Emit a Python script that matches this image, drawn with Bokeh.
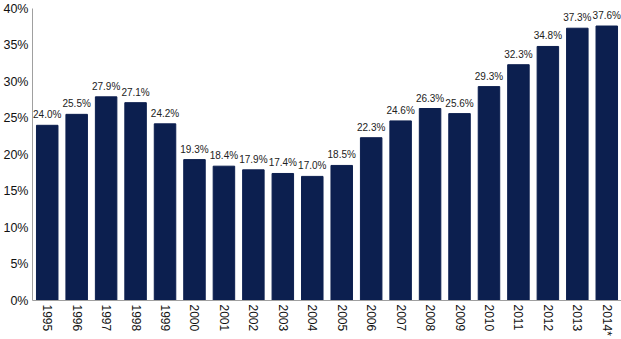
from bokeh.plotting import figure
from bokeh.models import ColumnDataSource, FactorRange, Range1d, FixedTicker, CustomJSTickFormatter
from bokeh.core.properties import value
from bokeh.embed import file_html
from bokeh.resources import INLINE

years = ["1995", "1996", "1997", "1998", "1999", "2000", "2001", "2002", "2003", "2004",
         "2005", "2006", "2007", "2008", "2009", "2010", "2011", "2012", "2013", "2014*"]
shares = [24.0, 25.5, 27.9, 27.1, 24.2, 19.3, 18.4, 17.9, 17.4, 17.0,
          18.5, 22.3, 24.6, 26.3, 25.6, 29.3, 32.3, 34.8, 37.3, 37.6]
y_ticks = [0, 5, 10, 15, 20, 25, 30, 35, 40]

labels = [f"{v:.1f}%" for v in shares]
src = ColumnDataSource(dict(x=years, y=shares, label=labels))

p = figure(x_range=FactorRange(*years, range_padding=0), y_range=Range1d(0, 40),
           width=621, height=339, output_backend="svg", toolbar_location=None,
           min_border_left=31, min_border_right=0, min_border_top=8, min_border_bottom=39)
p.outline_line_color = None
p.background_fill_color = "white"
p.border_fill_color = "white"

p.vbar(x="x", top="y", width=0.73, source=src, color="#0c1f4f")
p.text(x="x", y="y", text="label", source=src, text_align="center", text_baseline="bottom",
       y_offset=-5, text_font=value("Liberation Sans"), text_font_size="10px", text_color="#222222")

p.xgrid.grid_line_color = None
p.ygrid.grid_line_color = None

p.yaxis.ticker = FixedTicker(ticks=y_ticks)
p.yaxis.formatter = CustomJSTickFormatter(code="return tick + '%';")
for ax in (p.xaxis[0], p.yaxis[0]):
    ax.axis_line_color = "#a0a0a0"
    ax.axis_line_width = 1
    ax.major_tick_line_color = None
    ax.minor_tick_line_color = None
    ax.major_tick_out = 0
    ax.major_tick_in = 0
    ax.major_label_text_font = "Liberation Sans"
    ax.major_label_text_color = "#111111"
p.yaxis.major_label_text_font_size = "12.5px"
p.xaxis.major_label_text_font_size = "12px"
p.yaxis.major_label_standoff = 4
p.xaxis.major_label_orientation = "vertical"
p.xaxis.major_label_standoff = 4

open("out.html", "w").write(file_html(p, INLINE))
